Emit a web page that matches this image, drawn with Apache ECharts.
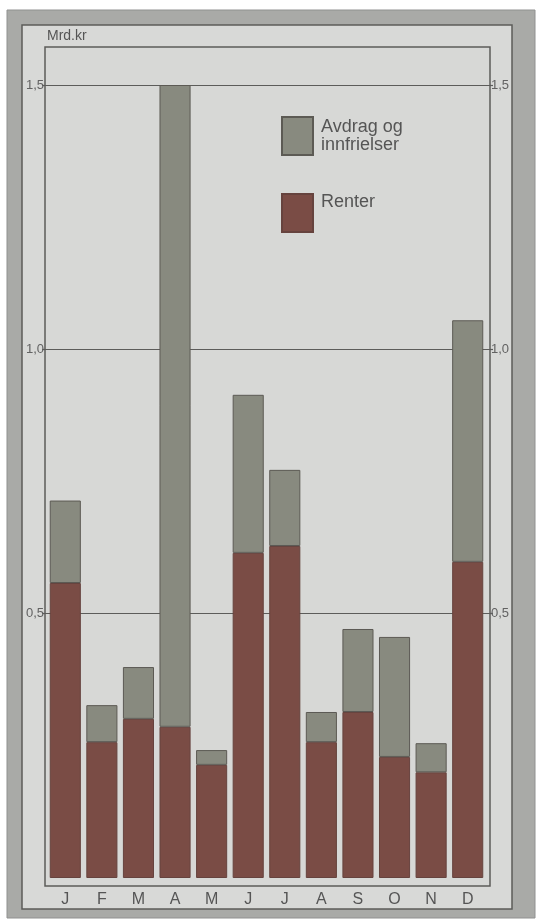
<!DOCTYPE html>
<html>
<head>
<meta charset="utf-8">
<script src="https://cdn.jsdelivr.net/npm/echarts@6/dist/echarts.min.js"></script>
<style>
  html, body { margin: 0; padding: 0; background: #ffffff; }
  #main { width: 542px; height: 920px; }
</style>
</head>
<body>
<div id="main"></div>
<script>
// months (Norwegian initials)
var months = ["J", "F", "M", "A", "M", "J", "J", "A", "S", "O", "N", "D"];
// Renter (interest), mrd. kr
var renter = [0.558, 0.257, 0.301, 0.286, 0.214, 0.615, 0.628, 0.257, 0.314, 0.229, 0.200, 0.598];
// Avdrag og innfrielser (repayments), mrd. kr
var avdrag = [0.156, 0.070, 0.098, 1.214, 0.028, 0.299, 0.144, 0.057, 0.157, 0.227, 0.055, 0.457];
// gridlines drawn at 0,5 1,0 1,5 (no line at 0)
var gridTicks = [0.5, 1.0, 1.5];

var font = "'Liberation Sans', Arial, sans-serif";
var chart = echarts.init(document.getElementById("main"));

function fmt(v) {
  return v.toFixed(1).replace(".", ",");
}

// the gridline axes cover only 0,5..1,5 ; same px scale as the bar axis
var gridAxis = {
  gridIndex: 0, type: "value",
  min: gridTicks[0], max: gridTicks[gridTicks.length - 1], interval: 0.5,
  axisLine: { show: false },
  axisTick: { show: true, length: 3, lineStyle: { color: "#5c5c5a", width: 1.2 } },
  axisLabel: { formatter: fmt, fontSize: 13, color: "#626262", margin: 1 }
};

chart.setOption({
  animation: false,
  backgroundColor: "#ffffff",
  textStyle: { fontFamily: font },
  graphic: [
    // outer grey frame
    { type: "rect", z: -10, shape: { x: 7, y: 10, width: 528, height: 908 },
      style: { fill: "#a9aaa7", stroke: "#909190", lineWidth: 1 } },
    // inner light panel
    { type: "rect", z: -9, shape: { x: 22, y: 25, width: 490, height: 884 },
      style: { fill: "#d8d9d7", stroke: "#5c5c5a", lineWidth: 1.5 } },
    // plot box
    { type: "rect", z: -8, shape: { x: 45, y: 47, width: 445, height: 839 },
      style: { fill: "#d7d8d6", stroke: "#5c5c5a", lineWidth: 1.5 } },
    { type: "text", z: 5, left: 47, top: 29,
      style: { text: "Mrd.kr", fontSize: 14, fill: "#555555", fontFamily: font } }
  ],
  legend: {
    left: 281,
    top: 116,
    padding: 0,
    orient: "vertical",
    icon: "rect",
    itemWidth: 31,
    itemHeight: 38,
    itemGap: 37,
    selectedMode: false,
    formatter: function (name) {
      // "Renter" sits near the top of its swatch
      return name === "Renter" ? "{r|" + name + "}" : name;
    },
    textStyle: {
      fontSize: 18, color: "#555555", lineHeight: 18, padding: [0, 0, 0, 3],
      rich: { r: { fontSize: 18, color: "#555555", lineHeight: 18, padding: [0, 0, 22, 0] } }
    },
    data: ["Avdrag og\ninnfrielser", "Renter"]
  },
  grid: [
    // gridline grid: 0,5 at y 613, 1,5 at y 85
    { left: 45, right: 52, top: 85, bottom: 307 },
    // bar grid: 0 at y 878
    { left: 47, right: 56, top: 85, bottom: 42 }
  ],
  xAxis: [
    { gridIndex: 0, type: "category", data: months, show: false },
    {
      gridIndex: 1,
      type: "category",
      data: months,
      axisLine: { show: false },
      axisTick: { show: false },
      axisLabel: { fontSize: 16, color: "#555555", margin: 14, interval: 0 }
    }
  ],
  yAxis: [
    Object.assign({}, gridAxis, {
      position: "left",
      splitLine: { show: true, lineStyle: { color: "#5c5c5a", width: 1.2 } }
    }),
    Object.assign({}, gridAxis, {
      position: "right",
      splitLine: { show: false }
    }),
    {
      gridIndex: 1, type: "value",
      min: 0, max: 1.5, interval: 0.5,
      show: false, splitLine: { show: false }
    }
  ],
  series: [
    {
      name: "Renter",
      type: "bar",
      xAxisIndex: 1,
      yAxisIndex: 2,
      stack: "total",
      barCategoryGap: "15%",
      data: renter,
      itemStyle: { color: "#7a4c45", borderColor: "#66433e", borderWidth: 1 }
    },
    {
      name: "Avdrag og\ninnfrielser",
      type: "bar",
      xAxisIndex: 1,
      yAxisIndex: 2,
      stack: "total",
      barCategoryGap: "15%",
      data: avdrag,
      itemStyle: { color: "#888a7f", borderColor: "#5c5a54", borderWidth: 1 }
    }
  ]
});
</script>
</body>
</html>
